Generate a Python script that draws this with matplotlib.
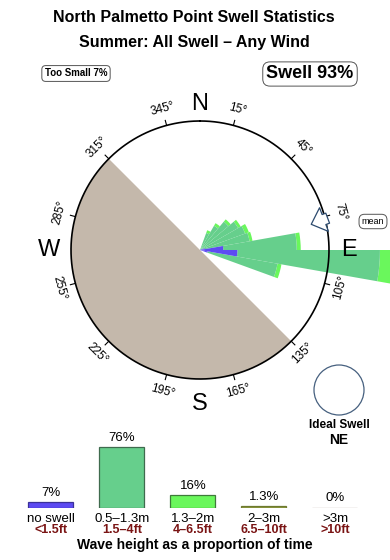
import numpy as np
import matplotlib
matplotlib.use("Agg")
import matplotlib.pyplot as plt
from matplotlib.patches import Ellipse

plt.rcParams['font.family'] = ['Liberation Sans', 'DejaVu Sans']

# swell rose: direction bins (deg, 10 deg wide), radial lengths per height class
# (units: fraction of the outer ring radius)
dirs = [25, 35, 45, 55, 65, 75, 85, 95, 105]
rose_small = [0.0, 0.0, 0.0, 0.0, 0.016, 0.04, 0.18, 0.29, 0.06]
rose_mid = [0.14, 0.217, 0.287, 0.341, 0.356, 0.35, 0.57, 1.105, 0.55]
rose_big = [0.023, 0.023, 0.023, 0.023, 0.031, 0.023, 0.031, 0.19, 0.031]
mean_dir = 77
shadow_from, shadow_to = 135, 315

deg_ticks = list(range(15, 360, 30))
cardinals = ['N', 'E', 'S', 'W']

# wave height summary
cats = ['no swell', '0.5\u20131.3m', '1.3\u20132m', '2\u20133m', '>3m']
cats_ft = ['<1.5ft', '1.5\u20134ft', '4\u20136.5ft', '6.5\u201310ft', '>10ft']
pct = [7, 76, 16, 1.3, 0]
pct_txt = ['7%', '76%', '16%', '1.3%', '0%']

c_small = '#5d4bf2'
c_mid = '#66cf8c'
c_big = '#6af75c'
bar_fc = [c_small, c_mid, c_big, '#8d9a3e', '#b9aaa0']
bar_ec = ['#3b3199', '#3f6b4e', '#3f7a3a', '#6e7a30', '#ab9c92']

W, H = 390, 560
fig = plt.figure(figsize=(3.9, 5.6), dpi=100)

# ---- rose ----
cx, cy, R = 200, 250, 129
rmax = 1.6
half = R * rmax
ax = fig.add_axes([(cx - half) / W, (H - cy - half) / H, 2 * half / W, 2 * half / H],
                  projection='polar')
ax.set_theta_zero_location('N')
ax.set_theta_direction(-1)
ax.set_ylim(0, rmax)
ax.set_axis_off()

th = np.radians(dirs)
wd = np.radians(10)
ax.bar(np.radians((shadow_from + shadow_to) / 2), 1.0,
       width=np.radians(shadow_to - shadow_from), color='#c4b8ab', lw=0, zorder=1)
b1 = np.array(rose_small)
b2 = b1 + np.array(rose_mid)
ax.bar(th, rose_big, width=wd, bottom=b2, color=c_big, lw=0, zorder=2)
ax.bar(th, rose_mid, width=wd, bottom=b1, color=c_mid, lw=0, zorder=3)
ax.bar(th, rose_small, width=wd, bottom=0, color=c_small, lw=0, zorder=4)

t = np.linspace(0, 2 * np.pi, 500)
ax.plot(t, np.ones_like(t), color='black', lw=1.2, zorder=6)

for d in deg_ticks:
    a = np.radians(d)
    ax.plot([a, a], [1.0, 1.04], color='black', lw=0.8, zorder=6)
    rot = -d if np.cos(a) > 0 else 180 - d
    ax.text(a, 1.13, f'{d}\u00b0', rotation=rot, ha='center', va='center',
            fontsize=8.5, rotation_mode='anchor')

card_r = [1.13, 1.155, 1.19, 1.17]
for i, c in enumerate(cardinals):
    ax.text(np.radians(90 * i), card_r[i], c, ha='center', va='center', fontsize=17)

ax.annotate('', xy=(np.radians(mean_dir), 0.885), xytext=(np.radians(mean_dir - 1), 1.02),
            arrowprops=dict(arrowstyle='simple,head_width=1.3,head_length=0.7,tail_width=0.55',
                            fc='white', ec='#2c4a6e', lw=0.9, mutation_scale=14,
                            shrinkA=0, shrinkB=0),
            zorder=7)

# ---- header texts ----
fig.text(194 / W, 1 - 18 / H, 'North Palmetto Point Swell Statistics',
         ha='center', va='center', fontsize=11.5, fontweight='bold')
fig.text(194 / W, 1 - 42.5 / H, 'Summer: All Swell \u2013 Any Wind',
         ha='center', va='center', fontsize=11.5, fontweight='bold')
fig.text(76 / W, 1 - 73.5 / H, 'Too Small 7%', ha='center', va='center', fontsize=7,
         fontweight='bold',
         bbox=dict(boxstyle='round,pad=0.3,rounding_size=0.4', fc='white', ec='#555555', lw=0.7))
fig.text(310 / W, 1 - 74 / H, 'Swell 93%', ha='center', va='center', fontsize=13,
         fontweight='bold',
         bbox=dict(boxstyle='round,pad=0.2,rounding_size=0.4', fc='white', ec='#555555', lw=0.7))
fig.text(373 / W, 1 - 221.5 / H, 'mean', ha='center', va='center', fontsize=6.5,
         bbox=dict(boxstyle='round,pad=0.3,rounding_size=0.6', fc='white', ec='#555555', lw=0.7))

# ideal swell marker
fig.add_artist(Ellipse((339 / W, 1 - 390 / H), 50 / W, 50 / H, transform=fig.transFigure,
                       fill=False, ec='#46607f', lw=0.9))
fig.text(339 / W, 1 - 425 / H, 'Ideal Swell', ha='center', va='center',
         fontsize=8.5, fontweight='bold')
fig.text(339 / W, 1 - 440.5 / H, 'NE', ha='center', va='center',
         fontsize=10, fontweight='bold')

# ---- height bars ----
base = 507.5
bx = fig.add_axes([0, (H - base) / H, 1, 80 / H])
x0, step = 51, 71
bx.set_xlim(-x0 / step, (W - x0) / step)
bx.set_ylim(0, 100)
bx.set_axis_off()
xs = np.arange(len(cats))
bx.bar(xs, pct, width=45 / step, color=bar_fc, edgecolor=bar_ec, lw=0.9)
for i in xs:
    bx.annotate(pct_txt[i], (i, pct[i]), xytext=(0, 6.5), textcoords='offset points',
                ha='center', va='center', fontsize=9.5)
    bx.annotate(cats[i], (i, 0), xytext=(0, -8.5), textcoords='offset points',
                ha='center', va='center', fontsize=9.5, annotation_clip=False)
    bx.annotate(cats_ft[i], (i, 0), xytext=(0, -16.5), textcoords='offset points',
                ha='center', va='center', fontsize=9, fontweight='bold',
                color='#7a1414', annotation_clip=False)
fig.text(194.5 / W, 1 - 545 / H, 'Wave height as a proportion of time',
         ha='center', va='center', fontsize=10, fontweight='bold')

fig.savefig('out.png', dpi=100)
